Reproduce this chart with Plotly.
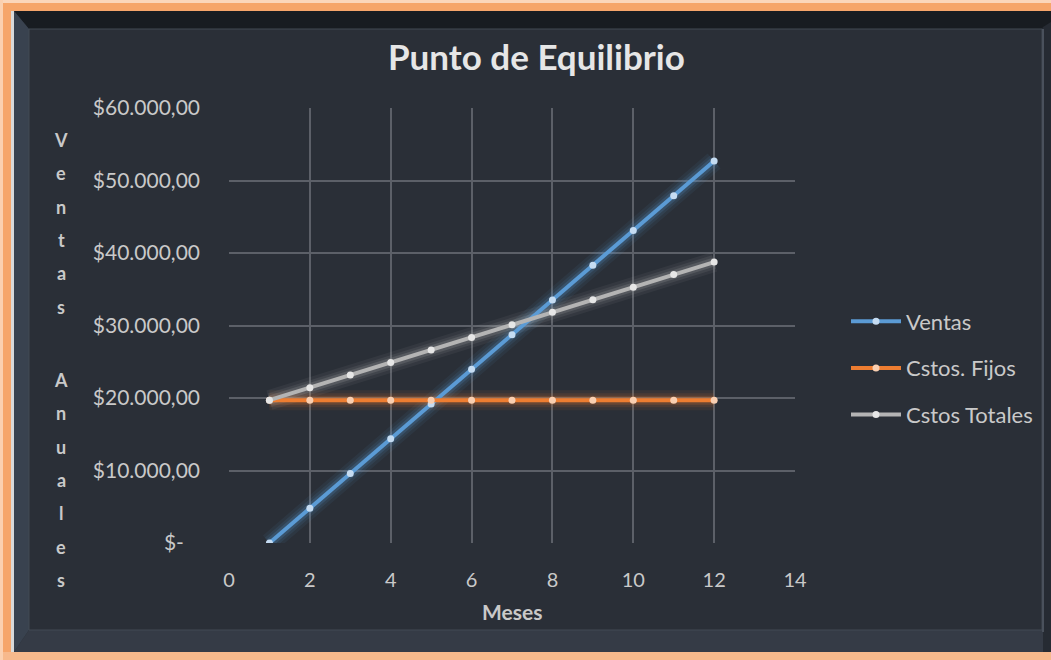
import plotly.graph_objects as go

# Datos del punto de equilibrio por mes
meses = [1, 2, 3, 4, 5, 6, 7, 8, 9, 10, 11, 12]
ventas = [0, 4790, 9580, 14370, 19160, 23950, 28740, 33530, 38320, 43110, 47900, 52690]
costos_fijos = [19700] * 12
costos_totales = [19700, 21430, 23160, 24900, 26630, 28360, 30090, 31820, 33560, 35290, 37020, 38750]

y_ticks = [0, 10000, 20000, 30000, 40000, 50000, 60000]
y_tick_text = ["$-\u00a0\u00a0\u00a0", "$10.000,00", "$20.000,00", "$30.000,00",
               "$40.000,00", "$50.000,00", "$60.000,00"]
x_ticks = [0, 2, 4, 6, 8, 10, 12, 14]

titulo = "Punto de Equilibrio"
titulo_x = "Meses"
titulo_y = ["Ventas", "Anuales"]

series = [
    ("Ventas", ventas, "#5b9bd5", "#c5dcf2"),
    ("Cstos. Fijos", costos_fijos, "#ed7d31", "#f9cfb1"),
    ("Cstos Totales", costos_totales, "#b4b4b4", "#e6e6e6"),
]

W, H = 1051, 660
L, R, T, B = 229, 795, 108, 543  # plot area in pixels
FONT = "Lato"
TXT = "#c9c9c9"


def px(x):
    return (x - L) / (R - L)


def py(y):
    return (B - y) / (B - T)


fig = go.Figure()

# soft glow underneath each line
for name, vals, color, mcol in series:
    for w, op in [(20, 0.07), (14, 0.1), (9, 0.18)]:
        fig.add_trace(go.Scatter(
            x=meses, y=vals, mode="lines", showlegend=False, hoverinfo="skip",
            line=dict(color=color, width=w), opacity=op))

for i, (name, vals, color, mcol) in enumerate(series):
    fig.add_trace(go.Scatter(
        x=meses, y=vals, name=name, mode="lines+markers", legendgroup=str(i),
        line=dict(color=color, width=4),
        marker=dict(color=mcol, size=7)))

# frame
shapes = []


def poly(points, fill, layer="below"):
    d = "M " + " L ".join(f"{px(a)},{py(b)}" for a, b in points) + " Z"
    return dict(type="path", xref="paper", yref="paper", path=d,
                fillcolor=fill, line=dict(width=0), layer=layer)


# orange outer edge (left, top, bottom)
shapes.append(poly([(0, 0), (W, 0), (W, 11), (0, 11)], "#f6a56a"))
shapes.append(poly([(0, 0), (11, 0), (11, H), (0, H)], "#f6a56a"))
shapes.append(poly([(0, 652), (W, 652), (W, H), (0, H)], "#f7b98c"))
shapes.append(poly([(0, 0), (W, 0), (W, 3), (0, 3)], "#fbd6bb"))
shapes.append(poly([(0, 0), (3, 0), (3, H), (0, H)], "#fbd0b0"))
shapes.append(poly([(11, 11), (14, 11), (14, 652), (11, 652)], "#d9d9d9"))
# bevelled dark frame
shapes.append(poly([(14, 11), (W, 11), (W, 652), (14, 652)], "#2a2f37"))
shapes.append(poly([(14, 11), (W, 11), (1042, 29), (29, 29)], "#181c21"))
shapes.append(poly([(14, 11), (29, 29), (29, 630), (14, 652)], "#39424f"))
shapes.append(poly([(14, 652), (29, 630), (1042, 630), (W, 652)], "#353b46"))
shapes.append(dict(type="rect", xref="paper", yref="paper",
                   x0=px(29), x1=px(1042), y0=py(630), y1=py(29),
                   line=dict(color="#434a55", width=1), fillcolor="rgba(0,0,0,0)",
                   layer="below"))
# right edge of the frame
shapes.append(poly([(1043, 11), (W, 11), (W, 652), (1043, 652)], "#262b33", "above"))
shapes.append(poly([(1043, 11), (W, 11), (W, 22), (1043, 27)], "#181c21", "above"))
shapes.append(poly([(1042, 29), (1044, 29), (1044, 632), (1042, 632)], "#4a515c", "above"))

annotations = [dict(
    text=f"<b>{titulo}</b>", xref="paper", yref="paper", x=px(536), y=py(56),
    xanchor="center", yanchor="middle", showarrow=False,
    font=dict(family=FONT, size=35, color="#e6e6e6"))]

# vertical stacked y-axis title
word_tops = [140, 380]
word_steps = [33.3, 33.3]
for w, word in enumerate(titulo_y):
    for k, ch in enumerate(word):
        annotations.append(dict(
            text=f"<b>{ch}</b>", xref="paper", yref="paper", x=px(61),
            y=py(word_tops[w] + k * word_steps[w]),
            xanchor="center", yanchor="middle", showarrow=False,
            font=dict(family=FONT, size=18, color=TXT)))

annotations.append(dict(
    text=f"<b>{titulo_x}</b>", xref="paper", yref="paper", x=px(512), y=py(611),
    xanchor="center", yanchor="middle", showarrow=False,
    font=dict(family=FONT, size=21, color=TXT)))

fig.update_layout(
    width=W, height=H,
    margin=dict(l=L, r=W - R, t=T, b=H - B, pad=0),
    paper_bgcolor="#262b33",
    plot_bgcolor="rgba(0,0,0,0)",
    font=dict(family=FONT, color=TXT),
    showlegend=True,
    legend=dict(x=px(846), y=py(368), xanchor="left", yanchor="middle",
                bgcolor="rgba(0,0,0,0)", font=dict(size=22, color=TXT),
                tracegroupgap=15, traceorder="grouped", itemwidth=50),
    shapes=shapes,
    annotations=annotations,
    xaxis=dict(range=[0, 14], tickvals=x_ticks, showgrid=True,
               gridcolor="#5c6068", gridwidth=1.5, zeroline=False,
               showline=False, ticks="", tickfont=dict(size=20, color=TXT),
               ticklabelstandoff=23),
    yaxis=dict(range=[0, 60000], tickvals=y_ticks, ticktext=y_tick_text,
               showgrid=True, gridcolor="#5c6068", gridwidth=1.5, zeroline=False,
               showline=False, ticks="", tickfont=dict(size=21, color=TXT),
               ticklabelstandoff=28),
)

fig.write_html("out.html")
